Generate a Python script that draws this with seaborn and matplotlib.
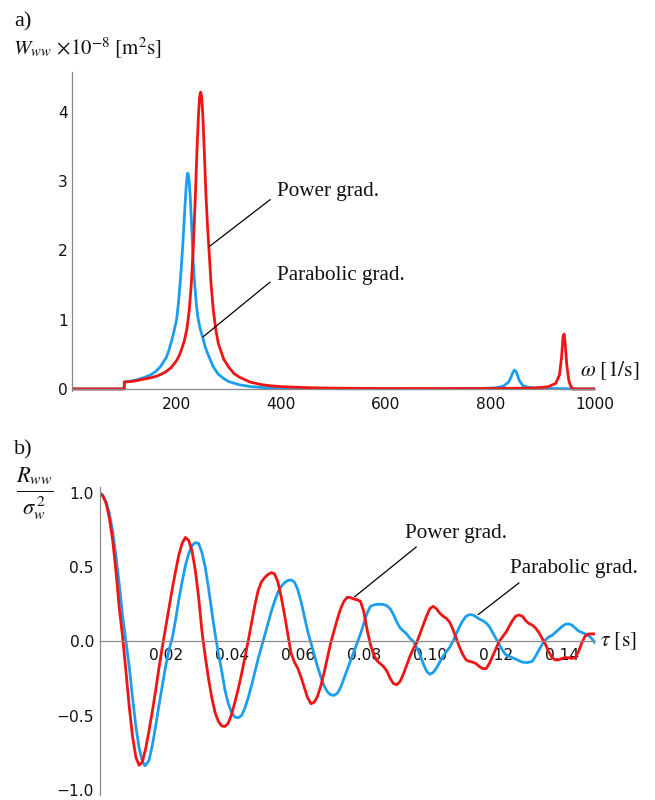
import matplotlib
matplotlib.use("Agg")
import matplotlib.pyplot as plt
import matplotlib.ticker as mt
import seaborn as sns
import pandas as pd

# ---------------- data: panel a) spectral density ----------------
omega_par = [0, 99.9, 100, 110, 120, 130, 140, 150, 160, 170, 180, 185, 190, 195, 200,
             203, 206, 209, 212, 215, 218, 220, 221, 222, 224, 226, 228, 230, 232, 235,
             238, 241, 245, 250, 255, 260, 270, 280, 290, 300, 320, 340, 360, 400, 450,
             500, 600, 700, 780, 810, 825, 835, 840, 843, 846, 849, 852, 856, 862, 870,
             890, 930, 955, 956, 1000]
W_par = [0, 0, 0.10, 0.11, 0.125, 0.145, 0.17, 0.2, 0.25, 0.33, 0.45, 0.55, 0.68, 0.83, 1.0,
         1.2, 1.45, 1.75, 2.1, 2.5, 2.88, 3.06, 3.11, 3.1, 3.0, 2.78, 2.48, 2.14, 1.8, 1.47,
         1.2, 1.02, 0.87, 0.74, 0.6, 0.5, 0.32, 0.21, 0.15, 0.105, 0.06, 0.035, 0.022, 0.01, 0.005,
         0.003, 0.002, 0.003, 0.006, 0.015, 0.04, 0.1, 0.18, 0.24, 0.27, 0.25, 0.19, 0.11, 0.05, 0.025,
         0.01, 0.004, 0.002, 0, 0]

omega_pow = [0, 99.9, 100, 110, 120, 130, 140, 150, 160, 170, 180, 190, 200, 205, 210,
             215, 220, 224, 228, 232, 236, 239, 242, 244, 246, 248, 250, 253, 256, 259,
             262, 266, 270, 275, 280, 290, 300, 310, 320, 340, 360, 380, 400, 450, 500,
             600, 700, 800, 880, 910, 925, 932, 936, 939, 941, 943, 946, 950, 953, 955,
             956, 1000]
W_pow = [0, 0, 0.10, 0.105, 0.115, 0.13, 0.145, 0.16, 0.18, 0.21, 0.25, 0.31, 0.41, 0.48, 0.58,
         0.7, 0.88, 1.12, 1.5, 2.05, 2.8, 3.45, 3.97, 4.21, 4.28, 4.21, 3.97, 3.42, 2.82, 2.36,
         2.0, 1.5, 1.15, 0.85, 0.65, 0.43, 0.31, 0.22, 0.17, 0.1, 0.065, 0.045, 0.033, 0.018, 0.011,
         0.006, 0.005, 0.006, 0.012, 0.03, 0.08, 0.2, 0.45, 0.76, 0.79, 0.65, 0.35, 0.12, 0.05, 0.03,
         0.0, 0.0]

# ---------------- data: panel b) correlation function ----------------
tau_pow = [0.000, 0.001, 0.002, 0.003, 0.004, 0.005, 0.006, 0.007, 0.008, 0.009,
           0.010, 0.011, 0.012, 0.013, 0.014, 0.015, 0.016, 0.017, 0.018, 0.019,
           0.020, 0.021, 0.022, 0.023, 0.024, 0.025, 0.026, 0.027, 0.028, 0.029,
           0.030, 0.031, 0.032, 0.033, 0.034, 0.035, 0.036, 0.037, 0.038, 0.039,
           0.040, 0.041, 0.042, 0.043, 0.044, 0.045, 0.046, 0.047, 0.048, 0.049,
           0.050, 0.051, 0.052, 0.053, 0.054, 0.055, 0.056, 0.057, 0.058, 0.059,
           0.060, 0.061, 0.062, 0.063, 0.064, 0.065, 0.066, 0.067, 0.068, 0.069,
           0.070, 0.071, 0.072, 0.073, 0.074, 0.075, 0.076, 0.077, 0.078, 0.079,
           0.080, 0.081, 0.082, 0.083, 0.084, 0.085, 0.086, 0.087, 0.088, 0.089,
           0.090, 0.091, 0.092, 0.093, 0.094, 0.095, 0.096, 0.097, 0.098, 0.099,
           0.100, 0.101, 0.102, 0.103, 0.104, 0.105, 0.106, 0.107, 0.108, 0.109,
           0.110, 0.111, 0.112, 0.113, 0.114, 0.115, 0.116, 0.117, 0.118, 0.119,
           0.120, 0.121, 0.122, 0.123, 0.124, 0.125, 0.126, 0.127, 0.128, 0.129,
           0.130, 0.131, 0.132, 0.133, 0.134, 0.135, 0.136, 0.137, 0.138, 0.139,
           0.140, 0.141, 0.142, 0.143, 0.144, 0.145, 0.146, 0.147, 0.148, 0.149, 0.150]
R_pow = [1.0, 0.98, 0.93, 0.83, 0.68, 0.47, 0.22, 0.03, -0.2, -0.44,
         -0.64, -0.78, -0.835, -0.81, -0.72, -0.6, -0.47, -0.33, -0.18, -0.04,
         0.09, 0.22, 0.35, 0.47, 0.58, 0.66, 0.70, 0.68, 0.61, 0.48,
         0.3, 0.07, -0.1, -0.25, -0.38, -0.48, -0.54, -0.57, -0.573, -0.55,
         -0.49, -0.41, -0.32, -0.22, -0.11, 0.0, 0.12, 0.24, 0.34, 0.40,
         0.43, 0.45, 0.463, 0.455, 0.40, 0.30, 0.18, 0.05, -0.08, -0.14,
         -0.18, -0.24, -0.31, -0.38, -0.42, -0.41, -0.37, -0.30, -0.21, -0.11,
         -0.01, 0.07, 0.15, 0.22, 0.27, 0.297, 0.295, 0.285, 0.28, 0.27,
         0.2, 0.08, -0.02, -0.09, -0.13, -0.15, -0.17, -0.2, -0.25, -0.285,
         -0.292, -0.27, -0.22, -0.16, -0.1, -0.05, -0.01, 0.05, 0.11, 0.17,
         0.22, 0.236, 0.22, 0.19, 0.17, 0.155, 0.13, 0.08, 0.02, -0.04,
         -0.09, -0.125, -0.135, -0.14, -0.15, -0.17, -0.183, -0.184, -0.15, -0.1,
         -0.05, 0.0, 0.03, 0.06, 0.1, 0.14, 0.17, 0.178, 0.17, 0.14,
         0.12, 0.11, 0.09, 0.06, 0.02, -0.02, -0.07, -0.11, -0.125, -0.125,
         -0.115, -0.11, -0.11, -0.115, -0.11, -0.07, -0.01, 0.035, 0.05, 0.05, 0.05]

tau_par = [0.000, 0.001, 0.002, 0.003, 0.004, 0.005, 0.006, 0.007, 0.008, 0.009,
           0.010, 0.011, 0.012, 0.013, 0.0137, 0.014, 0.015, 0.016, 0.017, 0.018, 0.019,
           0.020, 0.021, 0.022, 0.023, 0.024, 0.025, 0.026, 0.027, 0.028, 0.029,
           0.030, 0.031, 0.032, 0.033, 0.034, 0.035, 0.036, 0.037, 0.038, 0.039,
           0.040, 0.041, 0.042, 0.043, 0.044, 0.045, 0.046, 0.047, 0.048, 0.049,
           0.050, 0.051, 0.052, 0.053, 0.054, 0.055, 0.056, 0.057, 0.058, 0.059,
           0.060, 0.061, 0.062, 0.063, 0.064, 0.065, 0.066, 0.067, 0.068, 0.069,
           0.070, 0.071, 0.072, 0.073, 0.074, 0.075, 0.076, 0.077, 0.078, 0.079,
           0.080, 0.081, 0.082, 0.083, 0.084, 0.085, 0.086, 0.087, 0.088, 0.089,
           0.090, 0.091, 0.092, 0.093, 0.094, 0.095, 0.096, 0.097, 0.098, 0.099,
           0.100, 0.101, 0.102, 0.103, 0.104, 0.105, 0.106, 0.107, 0.108, 0.109,
           0.110, 0.111, 0.112, 0.113, 0.114, 0.115, 0.116, 0.117, 0.118, 0.119,
           0.120, 0.121, 0.122, 0.123, 0.124, 0.125, 0.126, 0.127, 0.128, 0.1295,
           0.131, 0.132, 0.133, 0.134, 0.135, 0.136, 0.137, 0.138, 0.139,
           0.140, 0.141, 0.142, 0.143, 0.144, 0.145, 0.146, 0.147, 0.148, 0.149, 0.150]
R_par = [1.0, 0.985, 0.94, 0.86, 0.74, 0.57, 0.38, 0.17, 0.0, -0.17,
         -0.38, -0.57, -0.72, -0.81, -0.836, -0.835, -0.8, -0.7, -0.57, -0.43, -0.3,
         -0.17, -0.06, 0.02, 0.14, 0.28, 0.4, 0.51, 0.59, 0.645, 0.665,
         0.66, 0.6, 0.5, 0.36, 0.2, 0.05, -0.08, -0.2, -0.33, -0.42,
         -0.48, -0.51, -0.515, -0.5, -0.45, -0.38, -0.3, -0.21, -0.12, -0.04,
         0.04, 0.12, 0.2, 0.27, 0.33, 0.37, 0.395, 0.41, 0.414, 0.4,
         0.35, 0.27, 0.17, 0.07, -0.01, -0.09, -0.17, -0.24, -0.3, -0.34,
         -0.36, -0.364, -0.35, -0.31, -0.25, -0.19, -0.13, -0.07, -0.01, 0.05,
         0.12, 0.19, 0.235, 0.245, 0.25, 0.25, 0.248, 0.24, 0.22, 0.18,
         0.13, 0.09, 0.07, 0.05, 0.02, 0.0, -0.04, -0.09, -0.15, -0.2,
         -0.222, -0.21, -0.18, -0.14, -0.1, -0.07, -0.04, 0.0, 0.05, 0.1,
         0.14, 0.17, 0.18, 0.178, 0.165, 0.15, 0.14, 0.125, 0.1, 0.06,
         0.02, -0.02, -0.06, -0.09, -0.1, -0.11, -0.12, -0.13, -0.14, -0.143,
         -0.135, -0.1, -0.06, -0.02, 0.01, 0.03, 0.04, 0.06, 0.08,
         0.1, 0.115, 0.118, 0.11, 0.09, 0.07, 0.06, 0.05, 0.04, 0.02, -0.01]

# ticks / labels
xticks_a = [200, 400, 600, 800, 1000]
yticks_a = [0, 1, 2, 3, 4]
xticks_b = [0.02, 0.04, 0.06, 0.08, 0.10, 0.12, 0.14]
xticklabels_b = ["0.02", "0.04", "0.06", "0.08", "0.10", "0.12", "0.14"]
yticks_b = [-1.0, -0.5, 0.0, 0.5, 1.0]
yticklabels_b = ["\u22121.0", "\u22120.5", "0.0", "0.5", "1.0"]

# annotation leader lines (point on curve, text anchor)
ann_a_power = ((262, 2.05), (379, 2.73))
ann_a_parab = ((250.5, 0.75), (378.6, 1.54))
ann_b_power = ((0.0772, 0.30), (0.0959, 0.636))
ann_b_parab = ((0.1146, 0.18), (0.127, 0.394))

BLUE = "#1c9ef0"
RED = "#f01414"
GRAY = "#8a8a8a"

sns.set_theme(style="white")
plt.rcParams["font.family"] = ["DejaVu Sans"]
plt.rcParams["mathtext.fontset"] = "stix"

W, H = 655, 800
fig = plt.figure(figsize=(W / 100, H / 100), dpi=100)


def fx(px):
    return px / W


def fy(py):
    return 1 - py / H


def style_axes(ax):
    for s in ["top", "right"]:
        ax.spines[s].set_visible(False)
    for s in ["left", "bottom"]:
        ax.spines[s].set_color(GRAY)
        ax.spines[s].set_linewidth(0.9)
    ax.spines["bottom"].set_position(("data", 0))
    ax.spines["left"].set_position(("data", 0))
    ax.tick_params(which="both", direction="in", color=GRAY, labelcolor="#111111",
                   labelsize=11.2)
    ax.tick_params(which="major", length=5, width=0.8)
    ax.tick_params(which="minor", length=2.8, width=0.6)
    ax.set_facecolor("none")
    ax.set_axisbelow(True)
    ax.set_xlabel("")
    ax.set_ylabel("")


# ---------------- panel a ----------------
y0a, y1a = -0.03, 4.57
axa = fig.add_axes([fx(72), fy(391), fx(595) - fx(72), fy(72) - fy(391)])
dfa_par = pd.DataFrame({"omega": omega_par, "W": W_par})
dfa_pow = pd.DataFrame({"omega": omega_pow, "W": W_pow})
sns.lineplot(data=dfa_par, x="omega", y="W", ax=axa, color=BLUE, lw=2.0,
             estimator=None, sort=False)
sns.lineplot(data=dfa_pow, x="omega", y="W", ax=axa, color=RED, lw=2.0,
             estimator=None, sort=False)
axa.set_xlim(0, 1000)
axa.set_ylim(y0a, y1a)
style_axes(axa)
axa.set_xticks(xticks_a)
axa.set_xticklabels([str(v) for v in xticks_a])
axa.set_yticks(yticks_a)
axa.set_yticklabels([str(v) for v in yticks_a])
axa.xaxis.set_minor_locator(mt.MultipleLocator(50))
axa.yaxis.set_minor_locator(mt.MultipleLocator(0.2))
axa.tick_params(axis="x", pad=6)
axa.tick_params(axis="y", pad=3)

serif = ["Liberation Serif", "DejaVu Serif"]
for (p0, p1), label, ty in [(ann_a_power, "Power grad.", 2.84),
                            (ann_a_parab, "Parabolic grad.", 1.64)]:
    axa.plot([p0[0], p1[0]], [p0[1], p1[1]], color="black", lw=0.9, zorder=5)
    axa.text(392, ty, label, family=serif, fontsize=15.2, ha="left", va="center",
             color="#111111")

# ---------------- panel b ----------------
y0b, y1b = -1.035, 1.04
axb = fig.add_axes([fx(99.5), fy(795), fx(595) - fx(99.5), fy(487) - fy(795)])
dfb_par = pd.DataFrame({"tau": tau_par, "R": R_par})
dfb_pow = pd.DataFrame({"tau": tau_pow, "R": R_pow})
sns.lineplot(data=dfb_par, x="tau", y="R", ax=axb, color=BLUE, lw=2.0,
             estimator=None, sort=False)
sns.lineplot(data=dfb_pow, x="tau", y="R", ax=axb, color=RED, lw=2.0,
             estimator=None, sort=False)
axb.set_xlim(0, 0.15)
axb.set_ylim(y0b, y1b)
style_axes(axb)
axb.set_xticks(xticks_b)
axb.set_xticklabels(xticklabels_b)
axb.set_yticks(yticks_b)
axb.set_yticklabels(yticklabels_b)
axb.xaxis.set_minor_locator(mt.MultipleLocator(0.005))
axb.yaxis.set_minor_locator(mt.MultipleLocator(0.1))
axb.tick_params(axis="x", pad=5)
axb.tick_params(axis="y", pad=4)

for (p0, p1), label, tx, ty in [(ann_b_power, "Power grad.", 0.0926, 0.73),
                                (ann_b_parab, "Parabolic grad.", 0.1243, 0.49)]:
    axb.plot([p0[0], p1[0]], [p0[1], p1[1]], color="black", lw=0.9, zorder=5)
    axb.text(tx, ty, label, family=serif, fontsize=15.2, ha="left", va="center",
             color="#111111")

# ---------------- labels ----------------
fig.text(fx(14), fy(12), "a)", family=serif, fontsize=16, ha="left", va="top", color="#111111")
fig.text(fx(13), fy(54), r"$W_{ww}\,\times\!10^{-8}\ [\mathrm{m}^2\mathrm{s}]$",
         fontsize=15, ha="left", va="baseline", color="#111111")
fig.text(fx(580), fy(376), r"$\omega\ [1/\mathrm{s}]$", fontsize=15.5,
         ha="left", va="baseline", color="#111111")

fig.text(fx(14), fy(440), "b)", family=serif, fontsize=16, ha="left", va="top", color="#111111")
fig.text(fx(35), fy(494), r"$\frac{R_{ww}}{\sigma_w^{\,2}}$", fontsize=23,
         ha="center", va="center", color="#111111")
fig.text(fx(600), fy(641.5), r"$\tau\ [\mathrm{s}]$", fontsize=15.5,
         ha="left", va="center", color="#111111")

fig.savefig("out.png", dpi=100, facecolor="white")
